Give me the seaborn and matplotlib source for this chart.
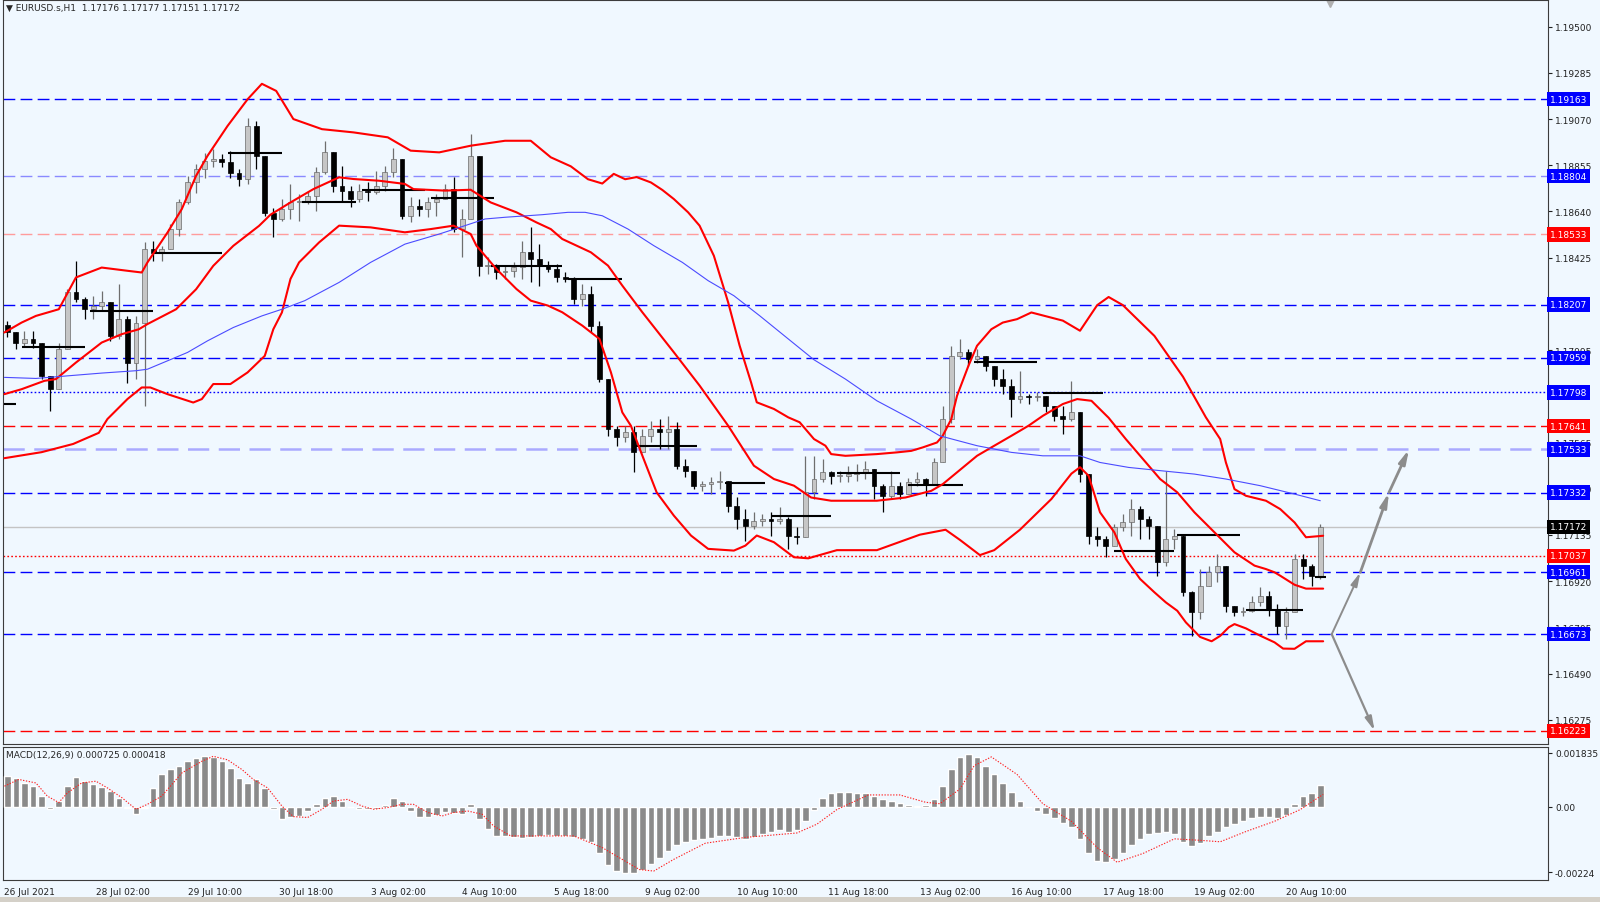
import numpy as np
import pandas as pd
import matplotlib
matplotlib.use("Agg")
import matplotlib.pyplot as plt
import seaborn as sns
from matplotlib.patches import Rectangle

sns.set_style("white")
plt.rcParams['font.family'] = ['DejaVu Sans']
plt.rcParams['axes.unicode_minus'] = False

# ---- price in 3-hour groups (bars 3g .. 3g+2) ----
first_open = 1.18110
grp_high = [1.18131, 1.18077, 1.18085, 1.18085, 1.18015, 1.17875, 1.18030, 1.18278, 1.18410, 1.18240,
            1.18248, 1.18271, 1.18201, 1.18302, 1.18154, 1.18154, 1.18496, 1.18503, 1.18480, 1.18581,
            1.18697, 1.18806, 1.18860, 1.18914, 1.18930, 1.18907, 1.18922, 1.18837, 1.19077, 1.19062,
            1.18868, 1.18658, 1.18698, 1.18768, 1.18721, 1.18737, 1.18845, 1.18969, 1.18899, 1.18853,
            1.18760, 1.18768, 1.18775, 1.18830, 1.18853, 1.18934, 1.18876, 1.18706, 1.18698, 1.18706,
            1.18721, 1.18768, 1.18799, 1.18651, 1.19000, 1.18899, 1.18426, 1.18395, 1.18388, 1.18403,
            1.18504, 1.18566, 1.18488, 1.18411, 1.18396, 1.18357, 1.18334, 1.18303, 1.18295, 1.18132,
            1.17861, 1.17643, 1.17643, 1.17643, 1.17628, 1.17667, 1.17674, 1.17690, 1.17659, 1.17488,
            1.17426, 1.17388, 1.17403, 1.17434, 1.17388, 1.17310, 1.17256, 1.17240, 1.17232, 1.17240,
            1.17263, 1.17217, 1.17170, 1.17504, 1.17504, 1.17488, 1.17433, 1.17433, 1.17457, 1.17464,
            1.17480, 1.17418, 1.17371, 1.17433, 1.17379, 1.17402, 1.17426, 1.17402, 1.17495, 1.17736,
            1.18015, 1.18046, 1.17999, 1.17999, 1.17961, 1.17922, 1.17906, 1.17860, 1.17899, 1.17790,
            1.17798, 1.17775, 1.17728, 1.17736, 1.17852, 1.17705, 1.17420, 1.17170, 1.17131, 1.17186,
            1.17232, 1.17302, 1.17271, 1.17224, 1.17124, 1.17434, 1.17162, 1.17139, 1.16875, 1.16976,
            1.16992, 1.17046, 1.16976, 1.16806, 1.16798, 1.16852, 1.16891, 1.16875, 1.16814, 1.16798,
            1.17046, 1.17046, 1.16999, 1.17185]
grp_low = [1.18054, 1.17999, 1.18015, 1.18007, 1.17860, 1.17713, 1.17813, 1.17999, 1.18217, 1.18139,
           1.18139, 1.18178, 1.18038, 1.18046, 1.17844, 1.17860, 1.17736, 1.18410, 1.18410, 1.18480,
           1.18527, 1.18674, 1.18728, 1.18798, 1.18845, 1.18845, 1.18798, 1.18759, 1.18767, 1.18837,
           1.18620, 1.18519, 1.18597, 1.18605, 1.18597, 1.18675, 1.18644, 1.18814, 1.18729, 1.18682,
           1.18659, 1.18682, 1.18690, 1.18721, 1.18737, 1.18799, 1.18605, 1.18589, 1.18620, 1.18613,
           1.18620, 1.18698, 1.18543, 1.18426, 1.18605, 1.18341, 1.18349, 1.18326, 1.18326, 1.18333,
           1.18326, 1.18310, 1.18295, 1.18357, 1.18310, 1.18310, 1.18209, 1.18202, 1.18078, 1.17845,
           1.17597, 1.17550, 1.17566, 1.17426, 1.17519, 1.17566, 1.17535, 1.17535, 1.17442, 1.17403,
           1.17349, 1.17341, 1.17326, 1.17349, 1.17240, 1.17163, 1.17108, 1.17163, 1.17178, 1.17132,
           1.17186, 1.17070, 1.17093, 1.17147, 1.17302, 1.17379, 1.17371, 1.17379, 1.17379, 1.17387,
           1.17395, 1.17302, 1.17240, 1.17309, 1.17302, 1.17356, 1.17364, 1.17317, 1.17379, 1.17488,
           1.17658, 1.17953, 1.17922, 1.17937, 1.17899, 1.17829, 1.17790, 1.17682, 1.17751, 1.17744,
           1.17759, 1.17705, 1.17666, 1.17604, 1.17666, 1.17380, 1.17092, 1.17085, 1.17030, 1.17100,
           1.17155, 1.17131, 1.17116, 1.17116, 1.16945, 1.16992, 1.17069, 1.16852, 1.16666, 1.16744,
           1.16930, 1.16914, 1.16775, 1.16759, 1.16759, 1.16775, 1.16806, 1.16759, 1.16674, 1.16651,
           1.16775, 1.16930, 1.16899, 1.16930]
grp_close = [1.18077, 1.18030, 1.18046, 1.18030, 1.17875, 1.17813, 1.17999, 1.18263, 1.18232, 1.18185,
             1.18201, 1.18217, 1.18061, 1.18139, 1.17937, 1.18123, 1.18465, 1.18449, 1.18465, 1.18558,
             1.18682, 1.18775, 1.18837, 1.18876, 1.18883, 1.18868, 1.18821, 1.18790, 1.19038, 1.18899,
             1.18635, 1.18604, 1.18651, 1.18682, 1.18690, 1.18713, 1.18822, 1.18915, 1.18760, 1.18737,
             1.18698, 1.18737, 1.18729, 1.18760, 1.18822, 1.18884, 1.18620, 1.18667, 1.18651, 1.18682,
             1.18698, 1.18744, 1.18558, 1.18605, 1.18899, 1.18388, 1.18388, 1.18357, 1.18364, 1.18380,
             1.18450, 1.18419, 1.18388, 1.18372, 1.18334, 1.18326, 1.18233, 1.18256, 1.18109, 1.17861,
             1.17628, 1.17589, 1.17612, 1.17519, 1.17597, 1.17628, 1.17612, 1.17628, 1.17457, 1.17434,
             1.17364, 1.17372, 1.17380, 1.17388, 1.17271, 1.17209, 1.17178, 1.17201, 1.17209, 1.17201,
             1.17209, 1.17132, 1.17124, 1.17333, 1.17395, 1.17426, 1.17410, 1.17410, 1.17418, 1.17426,
             1.17441, 1.17364, 1.17317, 1.17364, 1.17325, 1.17379, 1.17395, 1.17371, 1.17472, 1.17674,
             1.17968, 1.17984, 1.17953, 1.17968, 1.17922, 1.17860, 1.17829, 1.17767, 1.17782, 1.17775,
             1.17782, 1.17736, 1.17689, 1.17674, 1.17705, 1.17420, 1.17131, 1.17116, 1.17085, 1.17170,
             1.17193, 1.17255, 1.17209, 1.17178, 1.17007, 1.17116, 1.17131, 1.16868, 1.16775, 1.16899,
             1.16961, 1.16992, 1.16806, 1.16775, 1.16782, 1.16821, 1.16852, 1.16790, 1.16713, 1.16775,
             1.17023, 1.16992, 1.16945, 1.17172]

# ---- bands and moving average (bar index, price) ----
upper_x = [0, 6, 11, 19, 25, 34, 43, 48, 50, 57, 62, 67, 71, 78, 85, 90, 95, 101, 111, 122,
           134, 142, 152, 163, 175, 184, 191, 198, 204, 209, 213, 217, 221, 226, 230, 234, 239, 243, 248, 253,
           257, 261, 263, 269, 274, 278, 283, 287, 289, 294, 305, 312, 317, 321, 326, 328, 331, 333, 337, 340,
           345, 349, 354, 359, 370, 376, 382, 386, 391, 402, 412, 420, 425, 427, 430, 434, 441, 446, 451, 455, 461]
upper_y = [1.18077, 1.18123, 1.18154, 1.18185, 1.18333, 1.18379, 1.18364, 1.18356, 1.18403, 1.18542,
           1.18651, 1.18806, 1.18899, 1.19038, 1.19162, 1.19234, 1.19201, 1.19070, 1.19023, 1.19008,
           1.18985, 1.18923, 1.18915, 1.18946, 1.18969, 1.18969, 1.18892, 1.18850, 1.18790, 1.18770,
           1.18815, 1.18790, 1.18800, 1.18775, 1.18740, 1.18698, 1.18636, 1.18574, 1.18434, 1.18217,
           1.18016, 1.17845, 1.17752, 1.17721, 1.17682, 1.17659, 1.17581, 1.17550, 1.17511, 1.17503,
           1.17511, 1.17519, 1.17526, 1.17542, 1.17565, 1.17596, 1.17674, 1.17782, 1.17922, 1.18015,
           1.18092, 1.18123, 1.18139, 1.18170, 1.18132, 1.18085, 1.18204, 1.18242, 1.18204, 1.18061,
           1.17871, 1.17682, 1.17581, 1.17472, 1.17348, 1.17317, 1.17294, 1.17255, 1.17193, 1.17124, 1.17131]
middle_x = [0, 6, 14, 18, 25, 34, 41, 47, 50, 60, 67, 73, 80, 89, 93, 100, 108, 117, 122, 131,
            140, 143, 154, 163, 170, 179, 186, 191, 195, 205, 211, 216, 223, 234, 243, 253, 262, 269, 276, 282,
            289, 305, 315, 324, 328, 333, 340, 345, 352, 358, 363, 370, 375, 380, 386, 392, 398, 404, 410, 416,
            423, 430, 437, 441, 444, 446, 451, 455, 461]
middle_y = [1.17790, 1.17813, 1.17852, 1.17860, 1.17937, 1.18030, 1.18069, 1.18092, 1.18116, 1.18185,
            1.18278, 1.18387, 1.18480, 1.18573, 1.18625, 1.18682, 1.18744, 1.18799, 1.18791, 1.18783,
            1.18768, 1.18744, 1.18737, 1.18741, 1.18682, 1.18636, 1.18589, 1.18558, 1.18512, 1.18450,
            1.18388, 1.18295, 1.18171, 1.17985, 1.17830, 1.17643, 1.17457, 1.17395, 1.17364, 1.17309,
            1.17294, 1.17294, 1.17309, 1.17340, 1.17371, 1.17426, 1.17503, 1.17542, 1.17596, 1.17643,
            1.17689, 1.17744, 1.17767, 1.17759, 1.17680, 1.17581, 1.17488, 1.17395, 1.17333, 1.17240,
            1.17147, 1.17054, 1.16992, 1.16976, 1.16961, 1.16945, 1.16903, 1.16885, 1.16885]
lower_x = [0, 13, 24, 33, 36, 43, 48, 51, 57, 66, 69, 73, 79, 85, 91, 94, 97, 100, 103, 110,
           117, 128, 140, 149, 157, 163, 165, 172, 179, 184, 190, 195, 202, 208, 212, 216, 219, 223, 228, 234,
           240, 246, 255, 259, 263, 269, 276, 281, 291, 305, 320, 329, 334, 341, 346, 355, 366, 373, 376, 379,
           383, 388, 392, 397, 402, 406, 410, 413, 418, 422, 425, 428, 430, 434, 439, 444, 447, 451, 455, 461]
lower_y = [1.17492, 1.17520, 1.17558, 1.17610, 1.17674, 1.17767, 1.17821, 1.17821, 1.17790, 1.17751,
           1.17767, 1.17837, 1.17837, 1.17891, 1.17968, 1.18092, 1.18170, 1.18326, 1.18403, 1.18496,
           1.18574, 1.18566, 1.18543, 1.18558, 1.18574, 1.18535, 1.18481, 1.18372, 1.18279, 1.18225,
           1.18202, 1.18171, 1.18109, 1.18047, 1.17892, 1.17705, 1.17643, 1.17504, 1.17333, 1.17225,
           1.17132, 1.17070, 1.17062, 1.17085, 1.17132, 1.17101, 1.17031, 1.17026, 1.17064, 1.17064,
           1.17136, 1.17159, 1.17112, 1.17041, 1.17064, 1.17159, 1.17302, 1.17420, 1.17450, 1.17410,
           1.17240, 1.17147, 1.17023, 1.16930, 1.16868, 1.16821, 1.16782, 1.16728, 1.16660, 1.16640,
           1.16665, 1.16705, 1.16720, 1.16700, 1.16666, 1.16635, 1.16606, 1.16605, 1.16640, 1.16640]
ma_x = [0, 11, 22, 34, 46, 50, 57, 64, 71, 80, 90, 97, 105, 117, 128, 140, 152, 161, 168, 175,
        188, 197, 203, 209, 218, 227, 237, 246, 255, 264, 274, 283, 294, 305, 317, 327, 340, 352, 363, 376,
        383, 393, 404, 416, 427, 439, 451, 460]
ma_y = [1.17868, 1.17863, 1.17875, 1.17888, 1.17899, 1.17906, 1.17945, 1.17984, 1.18038, 1.18100,
        1.18154, 1.18185, 1.18225, 1.18310, 1.18403, 1.18488, 1.18535, 1.18574, 1.18605, 1.18613,
        1.18625, 1.18636, 1.18636, 1.18620, 1.18558, 1.18481, 1.18403, 1.18318, 1.18248, 1.18155,
        1.18047, 1.17950, 1.17860, 1.17759, 1.17674, 1.17596, 1.17550, 1.17519, 1.17503, 1.17503,
        1.17472, 1.17449, 1.17434, 1.17418, 1.17395, 1.17364, 1.17325, 1.17294]

# black day-level segments
seg_start = [0, 6, 30, 52, 78, 104, 125, 149, 170, 197, 220, 252, 268, 291, 316, 339, 363, 388, 410, 434, 458]
seg_end = [4, 28, 52, 76, 97, 123, 147, 171, 195, 216, 242, 266, 289, 313, 335, 361, 384, 409, 432, 454, 462]
seg_price = [1.17744, 1.18010, 1.18175, 1.18448, 1.18914, 1.18685, 1.18741, 1.18701, 1.18388, 1.18326,
             1.17547, 1.17377, 1.17225, 1.17421, 1.17368, 1.17941, 1.17795, 1.17061, 1.17136, 1.16785, 1.16939]

# horizontal levels
hl_price = [1.19163, 1.18804, 1.18533, 1.18207, 1.17959, 1.17798, 1.17641, 1.17533, 1.17332,
            1.17172, 1.17037, 1.16961, 1.16673, 1.16223]
hl_color = ['#0000ff', '#8a8aff', '#ff9c9c', '#0000ff', '#0000ff', '#0000ff', '#ff0000', '#aaaaff', '#0000ff',
            '#c4c4c4', '#ff0000', '#0000ff', '#0000ff', '#ff0000']
hl_style = ['dash', 'dash', 'dash', 'dash', 'dash', 'dot', 'dash', 'dash', 'dash',
            'solid', 'dot', 'dash', 'dash', 'dash']
hl_box = ['#0000ff', '#0000ff', '#ff0000', '#0000ff', '#0000ff', '#0000ff', '#ff0000', '#0000ff', '#0000ff',
          '#000000', '#ff0000', '#0000ff', '#0000ff', '#ff0000']

# grid prices still readable next to the level boxes
price_ticks = [1.19500, 1.19285, 1.19070, 1.18855, 1.18640, 1.18425, 1.17995,
               1.17565, 1.17350, 1.17135, 1.16920, 1.16705, 1.16490, 1.16275]

# scenario arrows
arrow_up_x = [464, 474, 484, 491]
arrow_up_y = [1.16673, 1.16961, 1.17332, 1.17533]
arrow_dn_x = [464, 479]
arrow_dn_y = [1.16673, 1.16223]

# ---- MACD (3-hour groups) ----
macd_hist = [0.00106, 0.00098, 0.00081, 0.00070, 0.00036, -0.00009, 0.00019, 0.00070, 0.00102, 0.00087,
             0.00076, 0.00068, 0.00053, 0.00031, -0.00003, -0.00026, -0.00003, 0.00064, 0.00110, 0.00129,
             0.00138, 0.00155, 0.00166, 0.00174, 0.00170, 0.00155, 0.00132, 0.00098, 0.00081, 0.00095,
             0.00064, -0.00009, -0.00041, -0.00037, -0.00032, -0.00015, 0.00008, 0.00031, 0.00036, 0.00019,
             0.00000, -0.00007, -0.00009, -0.00007, 0.00005, 0.00031, 0.00019, -0.00015, -0.00034, -0.00037,
             -0.00029, -0.00018, -0.00020, -0.00026, 0.00008, -0.00043, -0.00077, -0.00099, -0.00100, -0.00105,
             -0.00108, -0.00105, -0.00100, -0.00098, -0.00100, -0.00100, -0.00105, -0.00110, -0.00120, -0.00160,
             -0.00200, -0.00220, -0.00225, -0.00225, -0.00215, -0.00195, -0.00175, -0.00150, -0.00130, -0.00120,
             -0.00115, -0.00112, -0.00108, -0.00100, -0.00100, -0.00105, -0.00110, -0.00105, -0.00095, -0.00085,
             -0.00080, -0.00085, -0.00080, -0.00050, -0.00010, 0.00030, 0.00045, 0.00050, 0.00050, 0.00048,
             0.00045, 0.00035, 0.00025, 0.00020, 0.00012, 0.00005, 0.00002, 0.00005, 0.00025, 0.00070,
             0.00130, 0.00170, 0.00180, 0.00170, 0.00140, 0.00110, 0.00080, 0.00050, 0.00020, 0.00000,
             -0.00015, -0.00025, -0.00040, -0.00055, -0.00070, -0.00110, -0.00160, -0.00185, -0.00190, -0.00180,
             -0.00160, -0.00130, -0.00110, -0.00095, -0.00090, -0.00085, -0.00095, -0.00120, -0.00135, -0.00125,
             -0.00100, -0.00085, -0.00070, -0.00060, -0.00050, -0.00040, -0.00035, -0.00035, -0.00040, -0.00030,
             0.00010, 0.00035, 0.00045, 0.00073]
sig_x = [0, 5, 11, 15, 19, 22, 27, 32, 36, 41, 46, 50, 55, 62, 69, 73, 78, 83, 87, 92,
         97, 101, 106, 111, 115, 120, 125, 129, 134, 139, 143, 148, 153, 157, 162, 167, 171, 177, 199, 209,
         222, 227, 234, 245, 259, 277, 284, 291, 302, 313, 322, 327, 334, 339, 345, 354, 363, 373, 382, 389,
         398, 409, 418, 425, 434, 444, 453, 461]
sig_y = [0.00070, 0.00093, 0.00081, 0.00036, 0.00014, 0.00047, 0.00081, 0.00087, 0.00064, 0.00031,
         -0.00009, 0.00008, 0.00036, 0.00115, 0.00155, 0.00172, 0.00160, 0.00127, 0.00093, 0.00064,
         0.00002, -0.00034, -0.00037, -0.00009, 0.00019, 0.00025, 0.00002, -0.00009, -0.00003, 0.00008,
         0.00008, -0.00020, -0.00032, -0.00020, -0.00015, -0.00026, -0.00066, -0.00100, -0.00100, -0.00140,
         -0.00215, -0.00220, -0.00180, -0.00125, -0.00105, -0.00090, -0.00060, -0.00010, 0.00040, 0.00040,
         0.00015, 0.00010, 0.00060, 0.00140, 0.00170, 0.00110, 0.00010, -0.00050, -0.00140, -0.00190,
         -0.00160, -0.00110, -0.00115, -0.00120, -0.00085, -0.00050, -0.00010, 0.00042]
macd_ticks = [0.001835, 0.0, -0.00224]
macd_tick_labels = ['0.001835', '0.00', '-0.00224']

time_labels = ['26 Jul 2021', '28 Jul 02:00', '29 Jul 10:00', '30 Jul 18:00', '3 Aug 02:00', '4 Aug 10:00',
               '5 Aug 18:00', '9 Aug 02:00', '10 Aug 10:00', '11 Aug 18:00', '13 Aug 02:00', '16 Aug 10:00',
               '17 Aug 18:00', '19 Aug 02:00', '20 Aug 10:00']

W, H = 1600, 903
BG = '#f0f8ff'
FS = 6.5
EDGE = '#3c3c3c'

fig = plt.figure(figsize=(W / 100, H / 100), dpi=100, facecolor=BG)
ax = fig.add_axes([3 / W, 1 - 745 / H, 1545 / W, 744 / H], facecolor=BG)
axm = fig.add_axes([3 / W, 1 - 881 / H, 1545 / W, 133 / H], facecolor=BG)

# candles
close = np.array(grp_close)
opens = np.r_[first_open, close[:-1]]
high = np.maximum(np.array(grp_high), np.maximum(opens, close))
low = np.minimum(np.array(grp_low), np.minimum(opens, close))
xc = np.arange(len(close)) * 3 + 1
up = close >= opens
bot = np.minimum(opens, close)
hgt = np.maximum(np.abs(close - opens), 0.00003)

ax.vlines(xc[up], low[up], high[up], color='#6e6e6e', lw=0.9, zorder=3)
ax.vlines(xc[~up], low[~up], high[~up], color='black', lw=0.9, zorder=3)
ax.bar(xc[up], hgt[up], bottom=bot[up], width=1.7, color='#c6c6c6', edgecolor='#6a6a6a', lw=0.5, zorder=4)
ax.bar(xc[~up], hgt[~up], bottom=bot[~up], width=1.7, color='black', edgecolor='black', lw=0.5, zorder=4)

# level segments
ax.hlines(seg_price, seg_start, seg_end, color='black', lw=1.5, zorder=5)

# bands and MA
bands = pd.DataFrame({'bar': upper_x, 'price': upper_y})
sns.lineplot(data=bands, x='bar', y='price', ax=ax, color='#ff0000', lw=1.5, estimator=None, sort=False, zorder=6)
sns.lineplot(x=middle_x, y=middle_y, ax=ax, color='#ff0000', lw=1.5, estimator=None, sort=False, zorder=6)
sns.lineplot(x=lower_x, y=lower_y, ax=ax, color='#ff0000', lw=1.5, estimator=None, sort=False, zorder=6)
sns.lineplot(x=ma_x, y=ma_y, ax=ax, color='#4b4bff', lw=0.8, estimator=None, sort=False, zorder=6)

# horizontal levels + price boxes
for p, c, st, bc in zip(hl_price, hl_color, hl_style, hl_box):
    lw = 1.8 if c == '#aaaaff' else 1.0
    if st == 'dash':
        ax.axhline(p, color=c, lw=lw, dashes=(8.5, 3.8), zorder=2)
    elif st == 'dot':
        ax.axhline(p, color=c, lw=lw, dashes=(1.2, 1.6), zorder=2)
    else:
        ax.axhline(p, color=c, lw=lw, zorder=2)
    ax.text(1.0012, p, f'{p:.5f}', transform=ax.get_yaxis_transform(), ha='left', va='center',
            fontsize=FS, color='white', zorder=10, clip_on=False,
            bbox=dict(boxstyle='square,pad=0.3', fc=bc, ec='none'))

# arrows
arrow_kw = dict(arrowstyle='-|>,head_width=0.22,head_length=0.9', color='#8c8c8c', shrinkA=0, shrinkB=0)
for i in range(len(arrow_up_x) - 1):
    ax.annotate('', xy=(arrow_up_x[i + 1], arrow_up_y[i + 1]), xytext=(arrow_up_x[i], arrow_up_y[i]),
                arrowprops=dict(arrow_kw, lw=1.4 if i == 0 else 2.0, mutation_scale=9), zorder=7)
ax.annotate('', xy=(arrow_dn_x[1], arrow_dn_y[1]), xytext=(arrow_dn_x[0], arrow_dn_y[0]),
            arrowprops=dict(arrow_kw, lw=1.6, mutation_scale=9), zorder=7)

# chart shift marker
ax.plot([len(close) * 3 + 1.5], [0.996], marker='v', color='#b0b0b0', ms=6,
        transform=ax.get_xaxis_transform(), clip_on=False)

ax.set_xlim(-0.5, 539.6)
ax.set_ylim(1.16162, 1.19624)
ax.set_xlabel('')
ax.set_ylabel('')
ax.yaxis.tick_right()
ax.set_yticks(price_ticks)
ax.set_yticklabels([f'{t:.5f}' for t in price_ticks])
ax.tick_params(axis='y', direction='out', length=3, width=0.8, colors='#202020', labelsize=FS, pad=2)
ax.tick_params(axis='x', bottom=False, labelbottom=False)

# MACD pane
axm.bar(xc, macd_hist, width=2.3, color='#8a8a8a', zorder=3)
sns.lineplot(x=sig_x, y=sig_y, ax=axm, color='#ff2020', lw=0.8, linestyle=(0, (1.2, 1.4)),
             estimator=None, sort=False, zorder=4)
axm.set_xlim(-0.5, 539.6)
axm.set_ylim(-0.002506, 0.002038)
axm.set_xlabel('')
axm.set_ylabel('')
axm.yaxis.tick_right()
axm.set_yticks(macd_ticks)
axm.set_yticklabels(macd_tick_labels)
axm.tick_params(axis='y', direction='out', length=3, width=0.8, colors='#202020', labelsize=FS, pad=2)
axm.set_xticks([32 * i for i in range(len(time_labels))])
axm.set_xticklabels(time_labels)
axm.tick_params(axis='x', direction='out', length=3, width=0.8, colors='#202020', labelsize=FS, pad=2)
for lbl in axm.get_xticklabels():
    lbl.set_ha('left')
axm.text(0.002, 1 - 8 / 133, 'MACD(12,26,9) 0.000725 0.000418', transform=axm.transAxes,
         fontsize=FS, va='center', ha='left')

for a in (ax, axm):
    for s in a.spines.values():
        s.set_color(EDGE)
        s.set_linewidth(0.8)

fig.text(6 / W, 1 - 8 / H, '\u25bc EURUSD.s,H1  1.17176 1.17177 1.17151 1.17172', fontsize=FS, va='center')
fig.add_artist(Rectangle((0, 0), 1, 5 / H, transform=fig.transFigure, fc='#d4d0c8', ec='none'))

fig.savefig('out.png', dpi=100, facecolor=BG)
